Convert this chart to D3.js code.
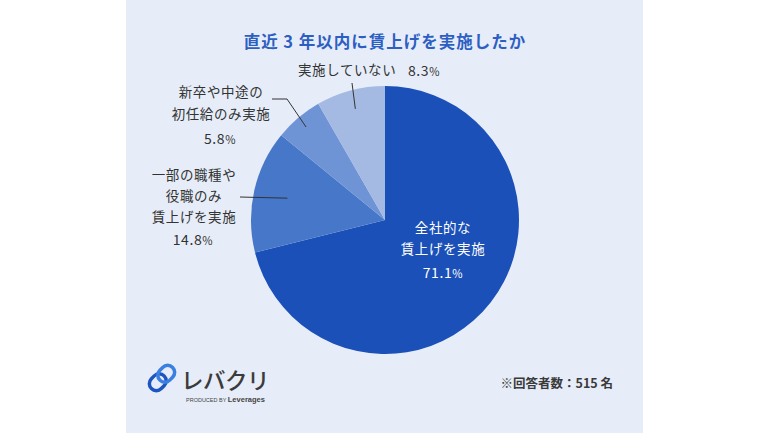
<!DOCTYPE html>
<html>
<head>
<meta charset="utf-8">
<script src="https://cdn.jsdelivr.net/npm/d3@7"></script>
<style>
  html, body { margin: 0; padding: 0; background: #fff; }
  svg { display: block; font-family: "Noto Sans CJK JP", "Noto Sans", sans-serif; }
</style>
</head>
<body>
<svg id="chart"></svg>
<script>
// data
const categories = ["全社的な賃上げを実施", "一部の職種や役職のみ賃上げを実施", "新卒や中途の初任給のみ実施", "実施していない"];
const values = [71.1, 14.8, 5.8, 8.3];
const labelLines = [
  ["全社的な", "賃上げを実施"],
  ["一部の職種や", "役職のみ", "賃上げを実施"],
  ["新卒や中途の", "初任給のみ実施"],
  ["実施していない"]
];
const title = "直近 3 年以内に賃上げを実施したか";
const note = "※回答者数：515 名";

const width = 770, height = 433;
const cx = 385, cy = 220, radius = 134;
const colors = ["#1a50b8", "#4777c9", "#6f94d5", "#a4bae3"];

const svg = d3.select("#chart").attr("width", width).attr("height", height);

// panel
svg.append("rect").attr("x", 126).attr("y", 0).attr("width", 517).attr("height", height).attr("fill", "#e6edf8");

svg.append("text")
  .attr("x", cx).attr("y", 48)
  .attr("text-anchor", "middle")
  .attr("font-size", 16.5).attr("font-weight", 700)
  .attr("letter-spacing", 1)
  .attr("fill", "#2d5fc2")
  .text(title);

const pie = d3.pie().sort(null).value(d => d);
const arcs = pie(values);
const arc = d3.arc().innerRadius(0).outerRadius(radius);

const g = svg.append("g").attr("transform", `translate(${cx},${cy})`);

g.selectAll("path")
  .data(arcs)
  .enter()
  .append("path")
  .attr("d", arc)
  .attr("fill", (d, i) => colors[i]);

// leader lines: inner point on slice, outer point near label
const lineColor = "#333";
const innerR = [0, 100, 122, 115];
const leaders = [
  null,
  [[-145, -23]],
  [[-98, -121], [-113, -121]],
  [[-33, -137]]
];
arcs.forEach((d, i) => {
  if (!leaders[i]) return;
  const r = innerR[i];
  const p = d3.arc().innerRadius(r).outerRadius(r).centroid(d);
  const pts = [p].concat(leaders[i]);
  g.append("path")
    .attr("d", d3.line()(pts))
    .attr("fill", "none")
    .attr("stroke", lineColor)
    .attr("stroke-width", 1);
});

function pct(sel, v, size) {
  sel.append("tspan").attr("font-size", size).text(v.toFixed(1));
  sel.append("tspan").attr("font-size", size * 0.8).text("%");
}

const labelStyle = (t, fill) => t.attr("fill", fill).attr("font-weight", 400).attr("font-size", 13.5).attr("letter-spacing", 0.6);
const pctText = (x, y, fill, anchor) => svg.append("text").attr("x", x).attr("y", y)
  .attr("text-anchor", anchor).attr("fill", fill).attr("font-weight", 400).attr("letter-spacing", 0.6);

// label 0 (inside)
labelLines[0].forEach((s, j) => {
  labelStyle(svg.append("text"), "#fff")
    .attr("x", 443).attr("y", 233 + j * 21)
    .attr("text-anchor", "middle").text(s);
});
pct(pctText(443, 278, "#fff", "middle"), values[0], 14);

// label 1
labelLines[1].forEach((s, j) => {
  labelStyle(svg.append("text"), "#333")
    .attr("x", 194).attr("y", 180 + j * 21)
    .attr("text-anchor", "middle").text(s);
});
pct(pctText(193, 245, "#333", "middle"), values[1], 14);

// label 2
labelLines[2].forEach((s, j) => {
  labelStyle(svg.append("text"), "#333")
    .attr("x", 221).attr("y", 97 + j * 22)
    .attr("text-anchor", "middle").text(s);
});
pct(pctText(220, 144, "#333", "middle"), values[2], 14);

// label 3
labelStyle(svg.append("text"), "#333")
  .attr("x", 298).attr("y", 75).text(labelLines[3][0]);
pct(pctText(408, 76, "#333", "start"), values[3], 14);

// note
svg.append("text")
  .attr("x", 613).attr("y", 388)
  .attr("text-anchor", "end")
  .attr("font-size", 12.5).attr("font-weight", 700)
  .attr("fill", "#3a3a3a")
  .text(note);

// logo
const logo = svg.append("g").attr("transform", "translate(162,378) rotate(-45)");
logo.append("rect").attr("x", -15).attr("y", -7).attr("width", 18).attr("height", 14).attr("rx", 7)
  .attr("fill", "none").attr("stroke", "#1d55c0").attr("stroke-width", 3.5);
logo.append("rect").attr("x", -3).attr("y", -7).attr("width", 18).attr("height", 14).attr("rx", 7)
  .attr("fill", "none").attr("stroke", "#3b7fe0").attr("stroke-width", 3.5);

svg.append("text")
  .attr("x", 181).attr("y", 389)
  .attr("font-size", 22.5).attr("font-weight", 500)
  .attr("fill", "#3b3b3b").attr("letter-spacing", -0.5)
  .text("レバクリ");
const prod = svg.append("text").attr("x", 186).attr("y", 402).attr("fill", "#444");
prod.append("tspan").attr("font-size", 5.5).attr("font-family", "Liberation Sans, sans-serif").text("PRODUCED BY ");
prod.append("tspan").attr("font-size", 7.5).attr("font-weight", 700).attr("font-family", "Liberation Sans, sans-serif").text("Leverages");
</script>
</body>
</html>
